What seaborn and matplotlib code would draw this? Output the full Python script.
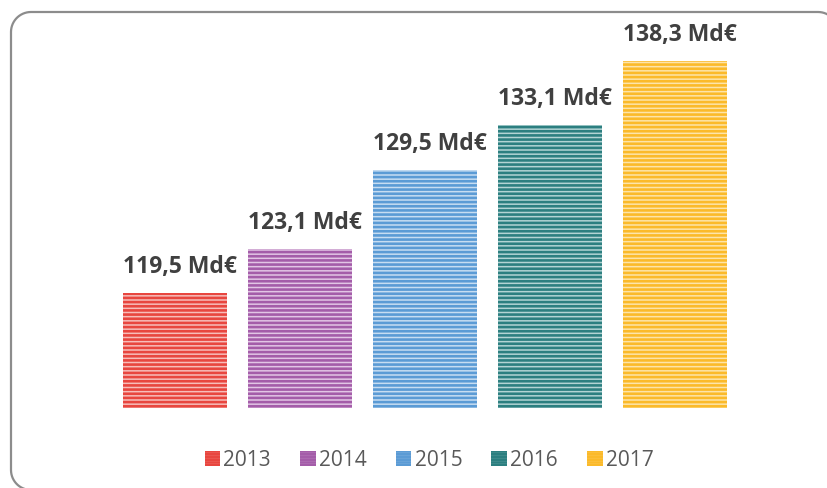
import matplotlib
matplotlib.use("Agg")
import matplotlib.pyplot as plt
import seaborn as sns
import pandas as pd
import numpy as np
from matplotlib.patches import Patch
from matplotlib.lines import Line2D

years = ["2013", "2014", "2015", "2016", "2017"]
values = [119.5, 123.1, 129.5, 133.1, 138.3]
labels = ["119,5 Md€", "123,1 Md€", "129,5 Md€", "133,1 Md€", "138,3 Md€"]
colors = ["#E8463F", "#A45DA9", "#5B9BD5", "#2C7F80", "#FBBA2A"]
tints = ["#F7BDBA", "#E2C6E5", "#C7DDF2", "#B3D4D4", "#FDE4AA"]

sns.set_theme(style="white")
plt.rcParams['font.family'] = ['Open Sans', 'DejaVu Sans']
plt.rcParams['hatch.linewidth'] = 1.9

df = pd.DataFrame({"year": years, "value": values})
fig = plt.figure(figsize=(8.28, 4.88), dpi=100)
ax = fig.add_axes([100/828, (488-408)/488, 650/828, (408-40)/488])

sns.barplot(data=df, x="year", y="value", hue="year", palette=dict(zip(years, colors)),
            dodge=False, width=0.83, legend=False, ax=ax)

for p, c, t in zip(ax.patches, colors, tints):
    p.set_facecolor(t)
    p.set_edgecolor(c)
    p.set_hatch("----")
    p.set_linewidth(0.0)

for p, lab in zip(ax.patches, labels):
    ax.annotate(lab, (p.get_x(), p.get_height()), xytext=(0, 10), textcoords="offset points",
                ha="left", va="bottom", fontsize=16.5, fontweight="bold", color="#404040")

ax.set_ylim(110.2, 140)
ax.set_xlim(-0.6, 4.6)
ax.set_axis_off()

handles = [Patch(facecolor=t, edgecolor=c, hatch="------", linewidth=0.0, label=y)
           for y, c, t in zip(years, colors, tints)]
fig.legend(handles=handles, loc="center", bbox_to_anchor=(429/828, 1 - 460/488), ncol=5,
           frameon=False, fontsize=15, handlelength=0.75, handleheight=0.75, handletextpad=0.15,
           columnspacing=1.4, labelcolor="#595959")

# rounded frame in pixel coordinates (origin bottom-left), partly running off the canvas
r = 20
left, right, top, bottom = 11, 838, 488 - 12, -2
a0 = np.linspace(-np.pi / 2, -np.pi, 16)
a1 = np.linspace(np.pi, np.pi / 2, 16)
a2 = np.linspace(np.pi / 2, 0, 16)
xs = np.concatenate([left + r + r * np.cos(a0), left + r + r * np.cos(a1), right - r + r * np.cos(a2)])
ys = np.concatenate([bottom + r + r * np.sin(a0), top - r + r * np.sin(a1), top - r + r * np.sin(a2)])
fig.add_artist(Line2D(xs, ys, transform=None, color="#8C8C8C", linewidth=1.6))

fig.savefig("out.png", dpi=100)
